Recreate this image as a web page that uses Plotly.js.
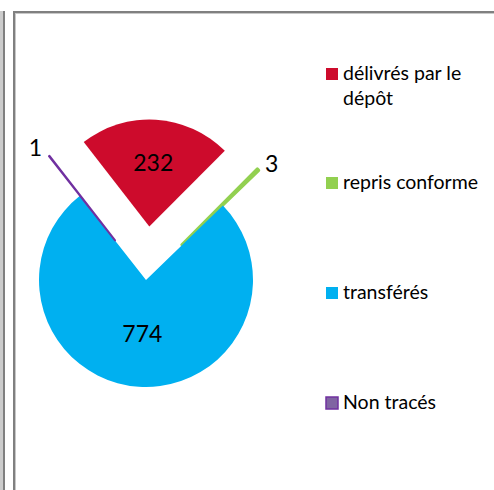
<!DOCTYPE html>
<html>
<head>
<meta charset="utf-8">
<script src="https://cdn.plot.ly/plotly-3.0.1.min.js"></script>
<style>
  html, body { margin: 0; padding: 0; overflow: hidden; background: #ffffff; width: 494px; height: 490px; position: relative; }
  #chart { position: absolute; left: -40px; top: 0; width: 534px; height: 490px; z-index: 1; }
  .fr { position: absolute; pointer-events: none; z-index: 5; }
</style>
</head>
<body>
<div id="chart"></div>
<div class="fr" style="left:13px; top:11px; width:2px; height:479px; background:#808080;"></div>
<div class="fr" style="left:15px; top:13px; width:1px; height:477px; background:#c8c8c8;"></div>
<div class="fr" style="left:13px; top:11px; width:481px; height:2px; background:#808080;"></div>
<div class="fr" style="left:15px; top:13px; width:479px; height:1px; background:#c8c8c8;"></div>
<div class="fr" style="left:0px; top:11px; width:3px; height:479px; background:#cccccc;"></div>
<div class="fr" style="left:3px; top:11px; width:2px; height:479px; background:#808080;"></div>
<script>
// ---- data ----
const labels = ['délivrés par le dépôt', 'repris conforme', 'transférés', 'Non tracés'];
const values = [232, 3, 774, 1];
const colors = ['#CD0B2C', '#92D050', '#00B0F0', '#8064A2'];
const edgeColors = ['rgba(0,0,0,0)', '#92D050', 'rgba(0,0,0,0)', '#7030A0'];

const OX = 40, W = 534, H = 490;
const px = p => (p + OX) / W;
const py = p => 1 - p / H;

const FONT = 'Lato, "Open Sans", sans-serif';

const cx = 146, cy = 280, R = 107, maxPull = 0.5;
const half = R * (1 + maxPull);

const trace = {
  type: 'pie',
  labels: labels,
  values: values,
  sort: false,
  direction: 'clockwise',
  rotation: -37.8,
  pull: [0.5, 0.47, 0, 0.47],
  marker: { colors: colors, line: { color: edgeColors, width: [0, 3, 0, 2] } },
  textinfo: 'value',
  textposition: ['inside', 'outside', 'inside', 'outside'],
  insidetextorientation: 'horizontal',
  insidetextfont: { family: FONT, size: 23, color: '#000000' },
  outsidetextfont: { family: FONT, size: 23, color: '#000000' },
  hoverinfo: 'none',
  showlegend: false,
  domain: { x: [px(cx - half), px(cx + half)], y: [py(cy + half), py(cy - half)] }
};

function wrap(s, n) {
  if (s.length <= n) return s;
  const i = s.lastIndexOf(' ', n);
  return i > 0 ? s.slice(0, i) + '<br>' + s.slice(i + 1) : s;
}
const legendTops = [68, 177, 287, 397];
const shapes = [];
const annotations = [];
labels.forEach((lab, i) => {
  const t = legendTops[i];
  shapes.push({
    type: 'rect', xref: 'paper', yref: 'paper',
    x0: px(326), x1: px(338), y0: py(t + 12), y1: py(t),
    fillcolor: colors[i],
    line: { color: i === 3 ? '#7030A0' : colors[i], width: i === 3 ? 1.5 : 0 }
  });
  annotations.push({
    xref: 'paper', yref: 'paper', x: px(341), y: py(t - 9),
    xanchor: 'left', yanchor: 'top', align: 'left', showarrow: false,
    text: wrap(lab, 16),
    font: { family: FONT, size: 19.5, color: '#000000' }
  });
});

const layout = {
  width: W, height: H,
  margin: { l: 0, r: 0, t: 0, b: 0, pad: 0 },
  paper_bgcolor: 'rgba(0,0,0,0)',
  plot_bgcolor: 'rgba(0,0,0,0)',
  font: { family: FONT },
  shapes: shapes,
  annotations: annotations
};

Plotly.newPlot('chart', [trace], layout, { displayModeBar: false, staticPlot: true });
</script>
</body>
</html>
